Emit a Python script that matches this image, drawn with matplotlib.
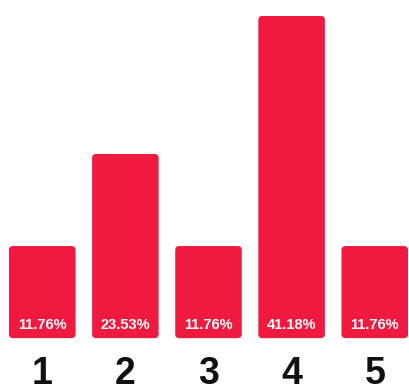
import matplotlib
matplotlib.use("Agg")
import matplotlib.pyplot as plt
from matplotlib.patches import FancyBboxPatch

categories = ["1", "2", "3", "4", "5"]
values = [11.76, 23.53, 11.76, 41.18, 11.76]
value_labels = ["11.76%", "23.53%", "11.76%", "41.18%", "11.76%"]

BAR_COLOR = "#EF1A3E"
W, H = 409, 384
fig = plt.figure(figsize=(W / 100, H / 100), dpi=100)
bottom_px = 46
top_px = 16
ax = fig.add_axes([0, bottom_px / H, 1, (H - bottom_px - top_px) / H])

x = list(range(len(categories)))
bw = 0.8
bars = ax.bar(x, values, width=bw, color=BAR_COLOR)
pitch_px = 83.2
ax.set_xlim(-bw / 2 - 9 / pitch_px, len(x) - 1 + bw / 2 + 1 / pitch_px)
ax.set_ylim(0, max(values))

# replace rectangles with rounded boxes
ppx_y = (H - bottom_px - top_px) / max(values)  # px per data unit in y
r_x = 4 / pitch_px
r_y = 4 / ppx_y
for b in bars:
    bx, by, bwid, bh = b.get_x(), b.get_y(), b.get_width(), b.get_height()
    b.set_visible(False)
    shadow = FancyBboxPatch((bx, by - 0.12), bwid, bh,
                            boxstyle=f"round,pad=0,rounding_size={r_x}",
                            mutation_aspect=r_y / r_x, facecolor="#000000",
                            alpha=0.12, edgecolor="none", clip_on=False)
    ax.add_patch(shadow)
    p = FancyBboxPatch((bx, by), bwid, bh,
                       boxstyle=f"round,pad=0,rounding_size={r_x}",
                       mutation_aspect=r_y / r_x, facecolor=BAR_COLOR,
                       edgecolor="none", clip_on=False)
    ax.add_patch(p)

for xi, lab in zip(x, value_labels):
    ax.text(xi, 1.2, lab, ha="center", va="baseline", color="white",
            fontsize=10.5, fontweight="bold", family="Liberation Sans")

ax.set_xticks(x)
ax.set_xticklabels(categories, fontsize=27, fontweight="bold",
                   family="Liberation Sans", color="#111111")
ax.tick_params(axis="x", length=0, pad=13)
ax.set_yticks([])
for s in ax.spines.values():
    s.set_visible(False)

fig.savefig("out.png", dpi=100)
